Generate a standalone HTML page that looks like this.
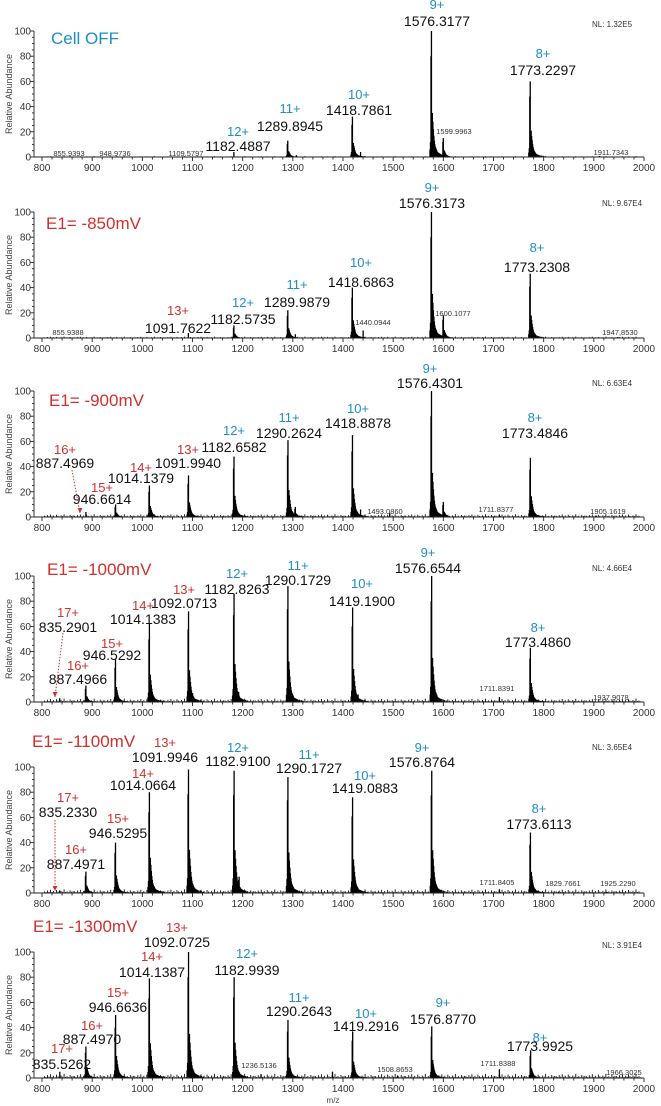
<!DOCTYPE html>
<html><head><meta charset="utf-8"><style>
html,body{margin:0;padding:0;background:#fff;}
svg{display:block;font-family:"Liberation Sans",Arial,sans-serif;}
</style></head><body>
<svg id="chart" width="661" height="1106" viewBox="0 0 661 1106" xmlns="http://www.w3.org/2000/svg"></svg>
<script>
// ---- data ----
const panelTitles = ["Cell OFF","E1= -850mV","E1= -900mV","E1= -1000mV","E1= -1100mV","E1= -1300mV"];
const nlLabels = ["NL: 1.32E5","NL: 9.67E4","NL: 6.63E4","NL: 4.66E4","NL: 3.65E4","NL: 3.91E4"];
const xTicks = [800,900,1000,1100,1200,1300,1400,1500,1600,1700,1800,1900,2000];
const yTicks = [0,20,40,60,80,100];
const p1Mz = [855.9,949.0,1109.6,1182.5,1289.9,1307,1418.8,1425,1435,1576.3,1599.99,1773.2,1911.7];
const p1Int = [0.6,0.6,0.6,4,13,1.5,32,3,4,100,15,60,0.8];
const p2Mz = [855.9,1091.8,1182.6,1289.99,1305,1418.7,1440.1,1576.3,1600.1,1773.2,1947.9];
const p2Int = [0.6,4,10,22,3,40,6,100,18,51,0.8];
const p3Mz = [887.5,946.7,1014.1,1092.0,1182.7,1290.3,1305,1418.9,1435,1493.1,1576.4,1600,1711.8,1773.5,1905.2];
const p3Int = [4,10,25,33,48,61,8,65,6,3,100,12,2,47,1];
const p4Mz = [835.3,887.5,946.5,1014.1,1092.1,1100,1182.8,1192,1290.2,1419.2,1430,1576.7,1711.8,1773.5,1937.9];
const p4Int = [3,13,34,62,72,7,86,8,92,75,6,100,4,43,1];
const p5Mz = [835.2,887.5,946.5,1014.1,1092.0,1182.9,1193,1290.2,1419.1,1576.9,1711.8,1773.6,1829.8,1925.2];
const p5Int = [2,17,40,80,98,97,13,92,76,97,3,48,1,1];
const p6Mz = [835.5,887.5,946.7,1014.1,1092.1,1182.99,1236.5,1290.3,1379,1419.3,1508.9,1576.9,1711.8,1773.99,1966.3];
const p6Int = [5,25,50,79,100,80,3,46,5,37,2,41,7,22,1];
const panelMz = [p1Mz,p2Mz,p3Mz,p4Mz,p5Mz,p6Mz];
const panelInt = [p1Int,p2Int,p3Int,p4Int,p5Int,p6Int];
// isotope/adduct tail profile (fraction of parent peak) at m/z offsets
const tailOffsets = [-3,-2,-1,1,2,3,4,5,6,7,8,9,10,11,12,14,16,18,20,23,26,30];
const tailRel = [0.06,0.12,0.8,0.3,0.35,0.28,0.22,0.17,0.13,0.1,0.08,0.07,0.06,0.05,0.04,0.035,0.03,0.025,0.02,0.02,0.015,0.01];
const noisePattern = [1,0.5,1.5,0.7,2,0.6,1.2,0.4,1.8,0.9,0.5,1.3,0.7,2.2,0.6,1,0.4,1.6,0.8,1.1];
const noiseLevel = [0.3,0.5,1,1.2,1.3,1.5];

// ---- layout ----
const baselines = [157,338,517,702,893,1078];
const H = 126;
const X0 = 42, X1 = 644, AX = 34;
function xs(mz){ return X0 + (mz-800)*(X1-X0)/1200; }
function ys(p, v){ return baselines[p] - v*H/100; }

const BLUE="#1f8dc8", RED="#d0312d";
// [charge, color, mzText, x, yCharge, yMz] (text centres)
const annos = [
 [["9+",BLUE,"1576.3177",437,4,21],["8+",BLUE,"1773.2297",543,53,70],["10+",BLUE,"1418.7861",359,94,110],["11+",BLUE,"1289.8945",290,108,126],["12+",BLUE,"1182.4887",238,131,146]],
 [["9+",BLUE,"1576.3173",432,187,203],["8+",BLUE,"1773.2308",537,247,267],["10+",BLUE,"1418.6863",361,262,282],["11+",BLUE,"1289.9879",297,284,302],["12+",BLUE,"1182.5735",243,302,319],["13+",RED,"1091.7622",178,310,328]],
 [["9+",BLUE,"1576.4301",430,368,383],["10+",BLUE,"1418.8878",358,408,423],["11+",BLUE,"1290.2624",289,417,433],["12+",BLUE,"1182.6582",234,430,447],["13+",RED,"1091.9940",188,449,463],["14+",RED,"1014.1379",141,467,478],["15+",RED,"946.6614",102,487,499],["16+",RED,"887.4969",65,449,463],["8+",BLUE,"1773.4846",535,417,433]],
 [["9+",BLUE,"1576.6544",428,552,568],["12+",BLUE,"1182.8263",237,573,589],["11+",BLUE,"1290.1729",298,565,580],["10+",BLUE,"1419.1900",362,583,601],["13+",RED,"1092.0713",184,589,603],["14+",RED,"1014.1383",143,605,619],["17+",RED,"835.2901",68,612,627],["15+",RED,"946.5292",112,643,655],["16+",RED,"887.4966",78,665,679],["8+",BLUE,"1773.4860",538,627,642]],
 [["13+",RED,"1091.9946",165,742,757],["12+",BLUE,"1182.9100",238,747,761],["11+",BLUE,"1290.1727",309,754,768],["9+",BLUE,"1576.8764",422,747,762],["10+",BLUE,"1419.0883",365,775,788],["14+",RED,"1014.0664",143,773,785],["17+",RED,"835.2330",68,797,812],["15+",RED,"946.5295",118,818,833],["16+",RED,"887.4971",76,849,864],["8+",BLUE,"1773.6113",539,808,824]],
 [["13+",RED,"1092.0725",177,927,942],["12+",BLUE,"1182.9939",247,953,970],["14+",RED,"1014.1387",152,956,972],["15+",RED,"946.6636",118,992,1007],["11+",BLUE,"1290.2643",299,997,1011],["10+",BLUE,"1419.2916",366,1013,1026],["9+",BLUE,"1576.8770",443,1002,1019],["8+",BLUE,"1773.9925",540,1037,1046],["16+",RED,"887.4970",92,1025,1039],["17+",RED,"835.5262",62,1048,1064]]
];
// small labels [text, x, y]
const smalls = [
 [["855.9393",69,153],["948.9736",115,153],["1109.5797",186,153],["1599.9963",454,131],["1911.7343",611,152]],
 [["855.9388",68,332],["1440.0944",373,322],["1600.1077",453,313],["1947,8530",620,332]],
 [["1493.0860",385,511],["1711.8377",496,509],["1905.1619",608,511]],
 [["1711.8391",497,688],["1937.9078",611,697]],
 [["1711.8405",497,882],["1829.7661",563,883],["1925.2290",618,883]],
 [["1236.5136",259,1065],["1508.8653",395,1069],["1711.8388",498,1063],["1966.3025",624,1072]]
];
const titleY = [38,223,400,569,741,926];
const titleX = [51,46,49,47,32,33];
const titleColor = [BLUE,RED,RED,RED,RED,RED];
const nlY = [24,203,383,568,747,945];
const arrows = [null,null,[72,470,80,513],[63,633,55,697],[55,820,55,891],null];

const svg = document.getElementById('chart');
const NS = "http://www.w3.org/2000/svg";
function mk(tag, attrs, parent){
  const e = document.createElementNS(NS, tag);
  for (const k in attrs) e.setAttribute(k, attrs[k]);
  (parent||svg).appendChild(e);
  return e;
}
function txt(str, attrs, parent){ const t = mk('text', attrs, parent); t.textContent = str; return t; }

for (let p=0;p<6;p++){
  const g = mk('g',{});
  
  
  const b = baselines[p];
  const ng = mk('g',{stroke:'#111','stroke-width':0.9},g);
  
  
  let k=0;
  for (let mz=805; mz<1995; mz+=3){
    const v = noisePattern[k%noisePattern.length]*noiseLevel[p]; k++;
    mk('line',{x1:xs(mz),x2:xs(mz),y1:b,y2:ys(p,v)},ng);
  }
  const mzs = panelMz[p], ints = panelInt[p];
  for (let i=0;i<mzs.length;i++){
    const pg = mk('g',{stroke:'#000'},g);
    
    
    const x = xs(mzs[i]);
    mk('line',{x1:x,x2:x,y1:b,y2:ys(p,ints[i]),'stroke-width':1.3},pg);
    if (ints[i] >= 8){
      for (let j=0;j<tailOffsets.length;j++){
        const tx = xs(mzs[i]+tailOffsets[j]);
        mk('line',{x1:tx,x2:tx,y1:b,y2:ys(p,ints[i]*tailRel[j]),'stroke-width':1.2},pg);
      }
    }
  }
  const ax = mk('g',{stroke:'#222','stroke-width':0.9,fill:'none'},g);
  
  
  mk('line',{x1:AX,x2:X1,y1:b,y2:b},ax);
  mk('line',{x1:AX,x2:AX,y1:b,y2:b-H},ax);
  for (let m=780;m<=2000;m+=20){
    if (xs(m)<AX) continue;
    const major = m%100===0;
    mk('line',{x1:xs(m),x2:xs(m),y1:b,y2:b+(major?4:2.5)},ax);
  }
  for (let v=0; v<=100; v+=5){
    const major = v%20===0;
    mk('line',{x1:AX,x2:AX-(major?4:2),y1:ys(p,v),y2:ys(p,v)},ax);
  }
  const tl = mk('g',{fill:'#333','font-size':10},g);
  
  
  for (const t of xTicks) txt(String(t),{x:xs(t),y:b+14,'text-anchor':'middle'},tl);
  const yl = mk('g',{fill:'#333','font-size':10},g);
  
  
  for (const t of yTicks) txt(String(t),{x:AX-3,y:ys(p,t)+3.5,'text-anchor':'end'},yl);
  const yt = txt('Relative Abundance',{x:0,y:0,'font-size':9,fill:'#444','text-anchor':'middle',transform:`translate(12,${b-H/2}) rotate(-90)`},g);
  
  
  const tt = txt(panelTitles[p],{x:titleX[p],y:titleY[p]+6,'font-size':17,fill:titleColor[p]},g);
  
  
  const nl = txt(nlLabels[p],{x:(p===1||p===5)?622:612,y:nlY[p]+3,'font-size':8,fill:'#333','text-anchor':'middle'},g);
  
  
  for (const a of annos[p]){
    const ag = mk('g',{'text-anchor':'middle'},g);
    
    
    txt(a[0],{x:a[3],y:a[4]+5,'font-size':13,fill:a[1]},ag);
    txt(a[2],{x:a[3],y:a[5]+5,'font-size':14,fill:'#111'},ag);
  }
  for (const s of smalls[p]){
    const st = txt(s[0],{x:s[1],y:s[2]+3,'font-size':7.5,fill:'#333','text-anchor':'middle'},g);
    
    
  }
  if (arrows[p]){
    const a = arrows[p];
    const ar = mk('line',{x1:a[0],y1:a[1],x2:a[2],y2:a[3],stroke:RED,'stroke-width':1,'stroke-dasharray':'1.5,1.5'},g);
    
    
    const hd = mk('polygon',{points:`${a[2]-2.5},${a[3]-5} ${a[2]+2.5},${a[3]-5} ${a[2]},${a[3]}`,fill:RED},g);
    
    
  }
}
const xt = txt('m/z',{x:333,y:1103,'font-size':8,fill:'#444','text-anchor':'middle'});


</script>
</body></html>
